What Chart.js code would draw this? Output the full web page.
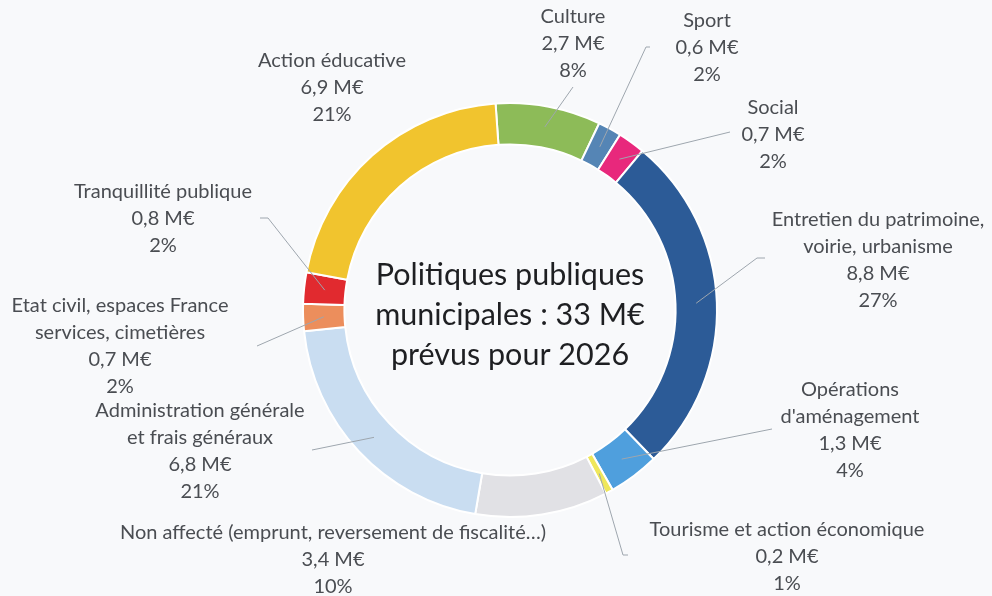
<!DOCTYPE html>
<html>
<head>
<meta charset="utf-8">
<script src="https://cdn.jsdelivr.net/npm/chart.js@4.4.0/dist/chart.umd.min.js"></script>
<style>
  html, body { margin: 0; padding: 0; background: #f8f9fb; }
</style>
</head>
<body>
<canvas id="chart" width="992" height="596"></canvas>
<script>
// data, clockwise from the top
const categories = [
    ['Culture'],
    ['Sport'],
    ['Social'],
    ['Entretien du patrimoine,', 'voirie, urbanisme'],
    ['Opérations', "d'aménagement"],
    ['Tourisme et action économique'],
    ['Non affecté (emprunt, reversement de fiscalité…)'],
    ['Administration générale', 'et frais généraux'],
    ['Etat civil, espaces France', 'services, cimetières'],
    ['Tranquillité publique'],
    ['Action éducative']
];
const amounts = [2.7, 0.6, 0.7, 8.8, 1.3, 0.2, 3.4, 6.8, 0.7, 0.8, 6.9];
const centerText = ['Politiques publiques', 'municipales : 33 M€', 'prévus pour 2026'];

const colors = ['#8dbb58', '#5585b5', '#e8287c', '#2c5b97', '#4f9fdd', '#efe75a',
                '#e1e1e5', '#c9ddf1', '#ec8e5c', '#e12a2f', '#f1c42e'];

// label layout: centre x, first line y ; leader line end x, y, tick
const labelPos = [[573, 17], [707, 21], [773, 108], [878, 220], [850, 390], [787, 530],
                  [333, 533], [200, 411], [120, 306], [163, 192], [332, 61]];
const lineEnds = [[573, 87, 0], [646, 47, 4], [730, 132, 0], [757, 258, 8], [772, 429, 0], [623, 555, 5],
                  null, [312, 450, 0], [257, 346, 0], [268, 218, -8], null];

const total = amounts.reduce((a, b) => a + b, 0);
const fmt = v => v.toFixed(1).replace('.', ',') + ' M€';

const labelsPlugin = {
    id: 'outLabels',
    afterDraw(chart) {
        const c = chart.ctx;
        const arcs = chart.getDatasetMeta(0).data;
        c.save();
        // leader lines
        c.strokeStyle = '#9ea6ae';
        c.lineWidth = 1;
        arcs.forEach((arc, i) => {
            const end = lineEnds[i];
            if (!end) return;
            const p = arc.getProps(['x', 'y', 'startAngle', 'endAngle', 'innerRadius', 'outerRadius'], true);
            const a = (p.startAngle + p.endAngle) / 2;
            const r = (p.innerRadius + p.outerRadius) / 2;
            c.beginPath();
            c.moveTo(p.x + Math.cos(a) * r, p.y + Math.sin(a) * r);
            c.lineTo(end[0], end[1]);
            if (end[2]) c.lineTo(end[0] + end[2], end[1]);
            c.stroke();
        });
        // labels
        c.fillStyle = '#4a4d52';
        c.font = "20px Lato";
        c.textAlign = 'center';
        c.textBaseline = 'middle';
        categories.forEach((lines, i) => {
            const all = lines.concat([fmt(amounts[i]), Math.round(amounts[i] / total * 100) + '%']);
            all.forEach((t, k) => c.fillText(t, labelPos[i][0], labelPos[i][1] + k * 26.8));
        });
        // centre title
        const m = arcs[0];
        c.fillStyle = '#1e1f22';
        c.font = "30.5px Lato";
        centerText.forEach((t, k) => c.fillText(t, m.x, m.y + 5 + (k - 1) * 40));
        c.restore();
    }
};

const ctx = document.getElementById('chart').getContext('2d');
const myChart = new Chart(ctx, {
    type: 'doughnut',
    data: {
        labels: categories.map(l => l.join(' ')),
        datasets: [{
            data: amounts,
            backgroundColor: colors,
            borderColor: '#ffffff',
            borderWidth: 2
        }]
    },
    options: {
        responsive: false,
        animation: false,
        cutout: '80%',
        rotation: -4,
        layout: { padding: { left: 302, right: 274, top: 102, bottom: 78 } },
        plugins: {
            legend: { display: false },
            tooltip: { enabled: false }
        }
    },
    plugins: [labelsPlugin]
});
</script>
</body>
</html>
